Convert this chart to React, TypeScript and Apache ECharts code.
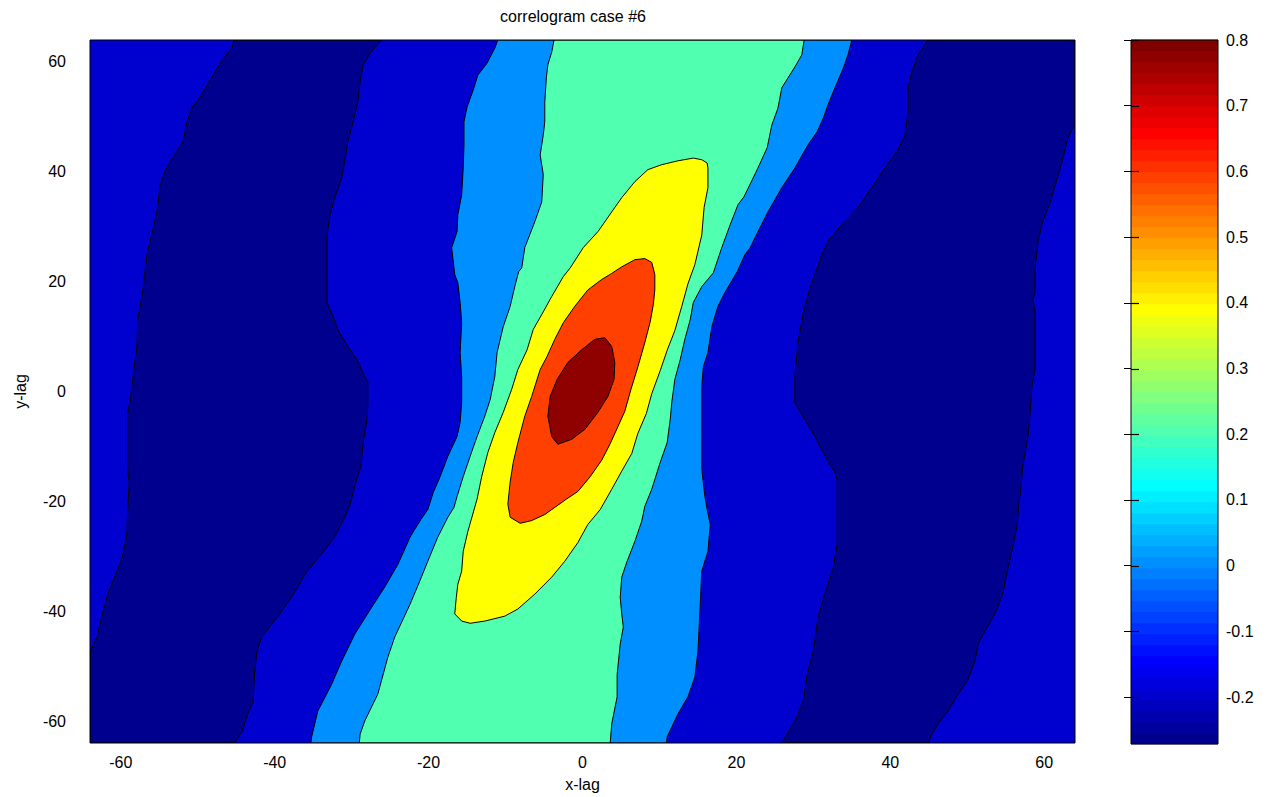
import React, { useEffect, useRef } from "react";
import * as echarts from "echarts";

// ---------- axes ----------
const lagMin = -64;
const lagMax = 64;
const xTicks = [-60, -40, -20, 0, 20, 40, 60];
const yTicks = [-60, -40, -20, 0, 20, 40, 60];
const cbarTicks = [-0.2, -0.1, 0, 0.1, 0.2, 0.3, 0.4, 0.5, 0.6, 0.7, 0.8];
const cMin = -0.2715;
const cMax = 0.8;
const nColors = 64;

// ---------- contour boundaries (x-lag, y-lag) ----------
// level -0.2 : left band, outer (left) edge, top -> bottom
const navyLeftOuter = [[-45.3,64],[-45.5,62.7],[-46.8,60.4],[-48.1,57.3],[-49.7,53.6],[-50.7,51.8],[-51.4,49.1],[-51.9,45.5],[-53.2,42.7],[-54.3,40.0],[-54.9,37.3],[-55.3,32.7],[-55.9,29.1],[-56.6,24.9],[-56.9,21.3],[-57.2,17.6],[-57.8,13.1],[-57.9,8.2],[-58.3,4.0],[-58.8,-2.0],[-59.1,-3.8],[-59.1,-14.2],[-58.9,-16.5],[-59.1,-21.5],[-59.2,-26.0],[-59.8,-30.2],[-60.8,-33.8],[-61.7,-36.9],[-62.3,-40.0],[-63.1,-44.7],[-64,-47.5]];
// level -0.2 : left band, inner (right) edge, top -> bottom
const navyLeftInner = [[-26.1,64],[-27.6,61.6],[-28.5,59.5],[-28.9,56.4],[-29.2,52.7],[-29.8,49.1],[-30.5,45.5],[-30.9,41.8],[-31.3,38.9],[-32.2,35.3],[-32.8,32.2],[-33.2,28.5],[-33.2,21.3],[-33.2,16.2],[-32.4,13.6],[-31.8,11.3],[-30.5,8.2],[-29.2,5.5],[-28.3,2.7],[-27.9,1.8],[-27.9,-2.7],[-28.0,-5.1],[-28.5,-9.3],[-28.8,-13.6],[-29.6,-17.3],[-30.2,-20.5],[-30.9,-22.9],[-32.2,-26.4],[-33.9,-29.6],[-35.8,-32.7],[-37.4,-36.5],[-39.1,-40.0],[-40.4,-42.4],[-41.7,-44.7],[-42.3,-47.3],[-42.6,-50.9],[-42.8,-56.4],[-43.5,-58.7],[-44.2,-61.8],[-45.2,-64]];
// level -0.2 : right band, inner (left) edge, top -> bottom
const navyRightInner = [[44.9,64],[43.6,61.3],[42.8,58.2],[42.3,55.3],[42.3,50.9],[41.9,46.7],[41.0,44.0],[39.3,40.7],[37.6,37.1],[35.8,33.5],[33.7,30.4],[31.9,27.3],[31.1,24.9],[30.2,21.3],[29.6,19.1],[28.7,14.4],[28.0,8.9],[27.6,2.7],[27.6,-2.0],[28.9,-5.1],[30.2,-8.2],[31.8,-12.4],[32.8,-14.7],[33.1,-16.0],[33.1,-27.8],[32.6,-32.0],[31.5,-36.9],[30.6,-41.1],[30.0,-47.3],[29.2,-51.5],[28.7,-56.4],[27.6,-60.0],[25.9,-64]];
// level -0.2 : right band, outer (right) edge, top -> bottom
const navyRightOuter = [[64,48.5],[63.7,48.0],[63.1,46.2],[62.3,41.8],[61.7,38.9],[60.8,34.5],[59.8,30.9],[59.2,27.3],[58.8,22.2],[58.8,18.0],[58.5,16.7],[58.8,14.9],[58.8,4.0],[58.4,0.9],[58.2,-3.3],[57.9,-8.2],[57.2,-13.6],[57.0,-17.3],[56.7,-20.5],[56.5,-24.2],[55.8,-29.1],[55.2,-32.7],[54.6,-36.9],[53.6,-40.5],[52.3,-43.6],[51.4,-46.0],[51.0,-49.1],[50.0,-52.7],[48.8,-55.1],[47.5,-58.2],[46.2,-60.5],[45.2,-62.9],[45.0,-64]];
// level 0 : left and right edges, top -> bottom
const zeroLeft = [[-11.0,64],[-11.4,62.5],[-12.4,59.8],[-13.6,57.6],[-14.2,54.9],[-15.0,51.8],[-15.4,49.1],[-15.4,44.9],[-15.5,40.7],[-15.7,35.8],[-16.2,32.2],[-16.3,29.1],[-17.0,26.2],[-16.6,21.3],[-16.2,19.8],[-15.9,16.2],[-15.7,12.5],[-15.9,7.1],[-15.7,2.7],[-15.7,-2.0],[-15.9,-5.6],[-16.3,-8.2],[-17.5,-11.8],[-18.5,-15.5],[-19.4,-18.4],[-20.1,-21.5],[-21.0,-23.3],[-21.8,-25.1],[-22.4,-26.5],[-24.0,-31.5],[-25.7,-35.6],[-27.4,-39.3],[-29.6,-44.2],[-31.3,-49.1],[-32.6,-53.3],[-34.4,-58.2],[-35.2,-62.9],[-35.3,-64]];
const zeroRight = [[35.0,64],[34.5,61.3],[33.9,58.9],[32.8,55.3],[31.9,52.2],[31.3,49.8],[30.5,47.3],[29.3,44.9],[27.6,40.7],[25.9,37.1],[24.1,32.7],[22.8,29.1],[21.8,26.2],[21.1,24.9],[20.1,21.8],[18.5,18.0],[17.6,15.5],[16.8,11.8],[16.3,7.1],[15.7,4.5],[15.5,0.9],[15.5,-8.2],[15.5,-14.2],[15.9,-19.1],[16.2,-21.5],[16.6,-24.2],[16.3,-29.1],[15.5,-32.7],[15.3,-38.7],[15.0,-47.3],[14.6,-52.0],[13.7,-55.6],[12.4,-58.7],[11.6,-61.1],[11.0,-62.9],[10.9,-64]];
// level 0.2 : left and right edges, top -> bottom
const p2Left = [[-3.7,64],[-4.0,61.8],[-4.5,59.5],[-4.7,57.1],[-4.9,52.7],[-4.9,49.1],[-5.1,46.7],[-5.5,43.1],[-5.1,39.5],[-5.3,34.5],[-6.2,30.9],[-7.5,26.2],[-7.9,22.5],[-8.3,21.8],[-8.8,19.1],[-9.4,15.5],[-10.3,11.8],[-11.1,7.1],[-11.4,2.7],[-12.0,-1.5],[-12.7,-4.5],[-13.7,-8.2],[-14.6,-11.8],[-15.5,-15.5],[-16.3,-19.1],[-16.7,-21.1],[-17.5,-22.9],[-18.8,-26.5],[-20.1,-30.9],[-21.2,-34.7],[-22.4,-38.7],[-24.4,-44.7],[-25.3,-48.4],[-26.6,-55.1],[-28.3,-60.0],[-28.9,-62.4],[-29.0,-64]];
const p2Right = [[28.8,64],[28.5,61.3],[27.6,59.1],[25.9,55.3],[25.4,51.6],[24.6,48.5],[24.0,44.4],[22.8,40.7],[21.8,37.8],[21.0,35.5],[20.2,34.0],[19.2,30.4],[18.1,26.2],[17.0,21.6],[15.5,19.1],[14.4,16.2],[14.0,13.1],[13.3,9.5],[12.7,5.8],[12.0,2.2],[11.6,-2.0],[11.4,-5.1],[11.0,-9.3],[10.1,-12.9],[9.0,-17.8],[8.1,-20.9],[7.7,-23.6],[6.8,-27.3],[5.8,-30.9],[5.1,-33.8],[4.9,-37.5],[5.1,-40.5],[5.3,-42.9],[4.9,-46.0],[4.5,-51.5],[4.5,-55.6],[3.8,-60.5],[3.6,-64]];
// level 0.4 : closed contour
const p4Loop = [[16.3,40.7],[16.2,41.6],[15.5,42.2],[14.4,42.5],[12.4,42.0],[10.3,41.3],[8.5,40.4],[6.8,38.2],[5.1,35.3],[3.8,32.7],[2.0,29.1],[0.1,26.2],[-1.6,22.5],[-2.5,20.9],[-4.0,17.3],[-5.1,14.5],[-6.4,11.3],[-7.2,7.6],[-8.4,4.0],[-9.2,0.4],[-10.3,-3.8],[-11.4,-7.5],[-12.3,-11.1],[-13.1,-15.5],[-13.7,-19.6],[-14.9,-25.5],[-15.5,-29.1],[-15.7,-32.7],[-16.2,-35.1],[-16.4,-37.5],[-16.6,-40.5],[-15.7,-41.8],[-14.6,-42.2],[-12.7,-41.8],[-10.1,-40.9],[-8.4,-39.6],[-6.2,-36.9],[-4.0,-33.8],[-2.3,-30.9],[-0.6,-27.5],[0.7,-24.2],[2.3,-21.5],[3.8,-17.8],[5.1,-14.5],[6.4,-11.3],[7.2,-7.6],[8.3,-4.0],[9.0,-0.4],[10.1,3.8],[11.0,7.5],[12.0,11.1],[12.9,15.5],[13.7,19.6],[14.6,23.1],[15.0,25.5],[15.5,28.5],[15.8,33.5],[16.3,37.1]];
// level 0.6 : closed contour
const p6Loop = [[-3.6,-21.1],[-2.1,-19.6],[-0.6,-18.2],[1.0,-15.5],[2.5,-12.5],[3.6,-9.5],[4.6,-6.4],[5.5,-3.6],[6.3,0.4],[7.2,4.5],[8.1,8.9],[8.8,12.7],[9.2,15.8],[9.4,18.5],[9.4,21.3],[9.0,23.5],[8.1,24.2],[6.8,24.0],[5.1,22.7],[3.8,21.5],[2.5,20.4],[0.7,18.5],[-1.0,15.5],[-2.5,12.5],[-3.6,9.5],[-4.6,6.4],[-5.5,4.0],[-6.6,-0.9],[-7.5,-4.5],[-8.4,-9.3],[-9.0,-12.9],[-9.4,-16.5],[-9.7,-20.5],[-9.4,-22.9],[-8.1,-24.0],[-6.6,-23.5],[-4.9,-22.4]];
// level 0.8 : closed contour
const p8Loop = [[1.6,9.5],[2.9,9.8],[3.8,8.2],[4.2,5.3],[4.1,2.2],[3.3,-0.9],[2.0,-3.8],[0.3,-6.9],[-1.4,-8.7],[-3.2,-9.6],[-4.0,-8.2],[-4.5,-4.5],[-4.2,-0.9],[-3.3,2.2],[-1.9,5.3],[-0.1,7.6]];

// fill colours (jet colormap entries of each level)
const colNavy = "#00008F";
const colBlue = "#0000CF";
const colLightBlue = "#008FFF";
const colAqua = "#50FFAF";
const colYellow = "#FFFF00";
const colOrange = "#FF4000";
const colDarkRed = "#8F0000";

const rev = (a: number[][]) => a.slice().reverse();

const regions = [
  { color: colBlue, stroke: false, pts: [[lagMin, lagMin], [lagMax, lagMin], [lagMax, lagMax], [lagMin, lagMax]] },
  { color: colNavy, stroke: true, pts: [...navyLeftOuter, [lagMin, lagMin], ...rev(navyLeftInner)] },
  { color: colNavy, stroke: true, pts: [...navyRightInner, ...rev(navyRightOuter), [lagMax, lagMax]] },
  { color: colLightBlue, stroke: true, pts: [...zeroLeft, ...rev(zeroRight)] },
  { color: colAqua, stroke: true, pts: [...p2Left, ...rev(p2Right)] },
  { color: colYellow, stroke: true, pts: p4Loop },
  { color: colOrange, stroke: true, pts: p6Loop },
  { color: colDarkRed, stroke: true, pts: p8Loop },
];

// MATLAB jet(64) colormap
function jet(k: number): string {
  // k: 1..64
  const n = 16;
  const u = (j: number) => {
    if (j < 1 || j > 47) return 0;
    if (j <= n) return j / n;
    if (j <= 31) return 1;
    return (48 - j) / n;
  };
  const r = u(k - 24);
  const g = u(k - 8);
  const b = u(k + 8);
  const h = (v: number) => Math.round(v * 255).toString(16).padStart(2, "0");
  return "#" + h(r) + h(g) + h(b);
}

const bands = Array.from({ length: nColors }, (_, i) => i);

const FONT = "'Liberation Sans', Arial, Helvetica, sans-serif";

export default function App() {
  const ref = useRef<HTMLDivElement>(null);
  useEffect(() => {
    const chart = echarts.init(ref.current!, null, { renderer: "svg" });
    const tickStyle = { color: "#000", fontSize: 16, fontFamily: FONT };
    const option: any = {
      animation: false,
      backgroundColor: "#fff",
      textStyle: { fontFamily: FONT },
      graphic: [
        {
          type: "text",
          x: 573,
          y: 16,
          style: {
            text: "correlogram case #6",
            fill: "#000",
            fontSize: 16,
            fontFamily: FONT,
            textAlign: "center",
            textVerticalAlign: "middle",
            align: "center",
            verticalAlign: "middle",
          },
        },
      ],
      grid: [
        { left: 90, top: 40, width: 985, height: 704, show: true, borderColor: "#000", borderWidth: 1, backgroundColor: "transparent", z: 10 },
        { left: 1131, top: 40, width: 87, height: 704, show: true, borderColor: "#000", borderWidth: 1, backgroundColor: "transparent", z: 10 },
      ],
      xAxis: [
        {
          type: "value", gridIndex: 0, min: lagMin, max: lagMax,
          axisLine: { show: false }, axisTick: { show: false }, splitLine: { show: false },
          axisLabel: { ...tickStyle, customValues: xTicks, margin: 11 },
          name: "x-lag", nameLocation: "middle", nameGap: 33,
          nameTextStyle: { ...tickStyle },
        },
        { type: "value", gridIndex: 1, min: 0, max: 1, show: false },
      ],
      yAxis: [
        {
          type: "value", gridIndex: 0, min: lagMin, max: lagMax,
          axisLine: { show: false }, axisTick: { show: false }, splitLine: { show: false },
          axisLabel: { ...tickStyle, customValues: yTicks, margin: 24 },
          name: "y-lag", nameLocation: "middle", nameGap: 62, nameRotate: 90,
          nameTextStyle: { ...tickStyle },
        },
        {
          type: "value", gridIndex: 1, position: "right", min: cMin, max: cMax, z: 12,
          axisLine: { show: false }, splitLine: { show: false },
          axisTick: { show: true, inside: true, length: 7, customValues: cbarTicks, lineStyle: { color: "#000", width: 1 } },
          axisLabel: {
            ...tickStyle, customValues: cbarTicks, margin: 8,
            formatter: (v: number) => (Math.abs(v) < 1e-9 ? "0" : v.toFixed(1)),
          },
        },
      ],
      series: [
        {
          type: "custom",
          xAxisIndex: 0,
          yAxisIndex: 0,
          silent: true,
          clip: true,
          data: regions.map((_, i) => [0, 0, i]),
          renderItem: (params: any, api: any) => {
            const r = regions[params.dataIndex];
            return {
              type: "polygon",
              shape: { points: r.pts.map((p) => api.coord(p)) },
              style: {
                fill: r.color,
                stroke: r.stroke ? "#000" : null,
                lineWidth: r.stroke ? 1 : 0,
              },
            };
          },
        },
        {
          type: "custom",
          xAxisIndex: 1,
          yAxisIndex: 1,
          silent: true,
          data: bands.map((i) => [0, 0, i]),
          renderItem: (params: any, api: any) => {
            const i = params.dataIndex;
            const step = (cMax - cMin) / nColors;
            const lo = cMin + i * step;
            const hi = lo + step;
            const p0 = api.coord([0, hi]);
            const p1 = api.coord([1, lo]);
            const rect = {
              type: "rect",
              shape: { x: p0[0], y: p0[1] - 0.3, width: p1[0] - p0[0], height: p1[1] - p0[1] + 0.6 },
              style: { fill: jet(i + 1), stroke: null },
            };
            if (i !== nColors - 1) return rect;
            // the last band also carries the left-edge tick marks, so they sit above every band
            const ticks = cbarTicks.map((v) => {
              const p = api.coord([0, v]);
              const y = Math.round(p[1]) + 0.5;
              const x = Math.round(p[0]);
              return {
                type: "line",
                z2: 50,
                shape: { x1: x, y1: y, x2: x + 8, y2: y },
                style: { stroke: "#000", lineWidth: 1.2 },
              };
            });
            return { type: "group", children: [rect, ...ticks] };
          },
        },
      ],
    };
    chart.setOption(option);
    return () => chart.dispose();
  }, []);
  return (
    <div
      ref={ref}
      style={{ position: "fixed", left: 0, top: 0, width: 1266, height: 797, background: "#fff" }}
    />
  );
}
